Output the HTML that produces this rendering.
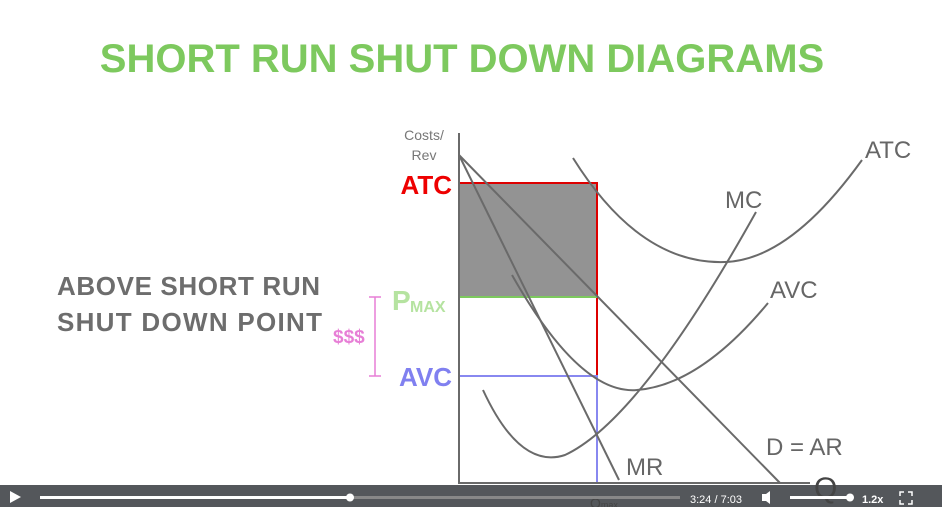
<!DOCTYPE html>
<html><head><style>
body{margin:0;width:942px;height:507px;overflow:hidden;background:#fff;font-family:"Liberation Sans",sans-serif;}
</style></head><body>
<svg width="942" height="507" xmlns="http://www.w3.org/2000/svg" style="position:absolute;left:0;top:0">
<text x="462" y="72" text-anchor="middle" font-family="Liberation Sans" font-weight="bold" font-size="40" fill="#7dc95e">SHORT RUN SHUT DOWN DIAGRAMS</text>
<text x="57" y="295" font-weight="bold" font-size="26" fill="#6d6d6d" textLength="263">ABOVE SHORT RUN</text>
<text x="57" y="331" font-weight="bold" font-size="26" fill="#6d6d6d" textLength="265">SHUT DOWN POINT</text>
<text x="333" y="343" font-size="19" font-weight="bold" fill="#e77fd6">$$$</text>
<path d="M369 297H381M375 297V376M369 376H381" stroke="#e77fd6" stroke-width="1.5" fill="none"/>
<text x="424" y="140" text-anchor="middle" font-size="14" fill="#777">Costs/</text>
<text x="424" y="160" text-anchor="middle" font-size="14" fill="#777">Rev</text>
<text x="452" y="194" text-anchor="end" font-weight="bold" font-size="26" fill="#e00">ATC</text>
<text x="392" y="310" font-weight="bold" font-size="28" fill="#b5e3a0">P</text>
<text x="410" y="312" font-weight="bold" font-size="16" fill="#b5e3a0">MAX</text>
<text x="452" y="386" text-anchor="end" font-weight="bold" font-size="26" fill="#8080f0">AVC</text>
<rect x="459" y="183" width="138" height="114" fill="#939393"/>
<path d="M459 183H597V376" stroke="#d00" stroke-width="2" fill="none"/>
<path d="M459 297H597" stroke="#7dc95e" stroke-width="2"/>
<path d="M459 376H597V483" stroke="#8888f0" stroke-width="2" fill="none"/>
<g stroke="#6a6a6a" stroke-width="2" fill="none">
<path d="M459 133V483H810"/>
<path d="M459 155L780 483"/>
<path d="M459 155L619 480"/>
<path d="M573 158Q640 265 725 262Q790 260 862 160"/>
<path d="M483 390Q520 470 565 455Q640 420 756 212"/>
<path d="M512 275Q580 395 637 390Q700 385 768 303"/>
</g>
<g font-size="24" fill="#666">
<text x="865" y="158">ATC</text>
<text x="725" y="208">MC</text>
<text x="770" y="298">AVC</text>
<text x="766" y="455">D = AR</text>
<text x="626" y="475">MR</text>
</g>
<rect x="0" y="485" width="942" height="22" fill="#54575b"/>
<text x="814" y="498" font-size="30" fill="#444">Q</text>
<text x="590" y="508" font-size="14" fill="#444">Q<tspan font-size="9">max</tspan></text>
<path d="M10 491L21 497L10 503Z" fill="#fff"/>
<rect x="40" y="496" width="640" height="3" fill="#888"/>
<rect x="40" y="496" width="310" height="3" fill="#fff"/>
<circle cx="350" cy="497.5" r="4" fill="#fff"/>
<text x="690" y="503" font-size="11" fill="#fff">3:24 / 7:03</text>
<path d="M762 494H766L770 491V504L766 501H762Z" fill="#fff"/>
<rect x="790" y="496" width="60" height="3" fill="#fff"/>
<circle cx="850" cy="497.5" r="4" fill="#fff"/>
<text x="862" y="503" font-size="11" font-weight="bold" fill="#fff">1.2x</text>
<path d="M900 496V492H904M908 492H912V496M912 500V504H908M904 504H900V500" stroke="#fff" stroke-width="1.5" fill="none"/>
</svg>
</body></html>
